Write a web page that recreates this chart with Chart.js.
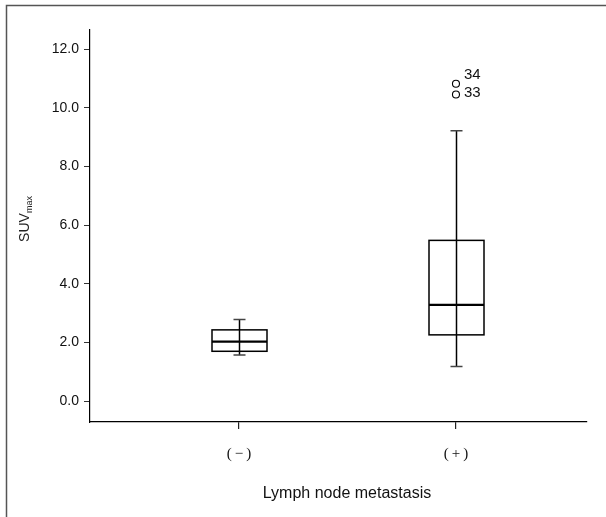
<!DOCTYPE html>
<html>
<head>
<meta charset="utf-8">
<script src="https://cdn.jsdelivr.net/npm/chart.js@4/dist/chart.umd.min.js"></script>
<style>
html,body{margin:0;padding:0;background:#fff;}
#wrap{width:606px;height:517px;position:relative;}
</style>
</head>
<body>
<div id="wrap"><canvas id="c" width="606" height="517"></canvas></div>
<script>
// ---- data ----
const categories = ['(\u2009\u2212\u2009)', '(\u2009+\u2009)'];
const categoryPositions = [1, 2];
const whiskerLow = [1.57, 1.18];
const quartile1 = [1.70, 2.26];
const medians = [2.03, 3.28];
const quartile3 = [2.43, 5.48];
const whiskerHigh = [2.78, 9.22];
const outlierCategory = [2, 2];
const outlierValues = [10.45, 10.82];
const outlierLabels = ['33', '34'];
const yTickValues = [0, 2, 4, 6, 8, 10, 12];
const yTitleMain = 'SUV';
const yTitleSub = 'max';
const xTitle = 'Lymph node metastasis';

const SANS = '"Liberation Sans", Arial, sans-serif';
const SERIF = '"Liberation Serif", "Times New Roman", serif';

const boxPlugin = {
  id: 'boxPlugin',
  beforeDraw(chart) {
    const ctx = chart.ctx;
    ctx.save();
    ctx.fillStyle = '#fff';
    ctx.fillRect(0, 0, chart.width, chart.height);
    // outer frame (left and top)
    ctx.strokeStyle = '#555';
    ctx.lineWidth = 1.5;
    ctx.beginPath();
    ctx.moveTo(6.5, chart.height);
    ctx.lineTo(6.5, 5.5);
    ctx.lineTo(chart.width, 5.5);
    ctx.stroke();
    ctx.restore();
  },
  afterDatasetsDraw(chart) {
    const ctx = chart.ctx;
    const xs = chart.scales.x, ys = chart.scales.y;
    ctx.save();
    const half = 27.5, cap = 6;
    for (let i = 0; i < categories.length; i++) {
      const cx = Math.round(xs.getPixelForValue(categoryPositions[i])) + 0.5;
      const yLo = ys.getPixelForValue(whiskerLow[i]);
      const yHi = ys.getPixelForValue(whiskerHigh[i]);
      const y1 = ys.getPixelForValue(quartile1[i]);
      const y3 = ys.getPixelForValue(quartile3[i]);
      const ym = ys.getPixelForValue(medians[i]);
      // whisker line (through box)
      ctx.strokeStyle = '#000';
      ctx.lineWidth = 1.5;
      ctx.beginPath();
      ctx.moveTo(cx, yLo); ctx.lineTo(cx, yHi);
      ctx.stroke();
      // caps
      ctx.strokeStyle = '#444';
      ctx.lineWidth = 1.5;
      ctx.beginPath();
      ctx.moveTo(cx - cap, yLo); ctx.lineTo(cx + cap, yLo);
      ctx.moveTo(cx - cap, yHi); ctx.lineTo(cx + cap, yHi);
      ctx.stroke();
      // box
      ctx.strokeStyle = '#000';
      ctx.lineWidth = 1.5;
      ctx.strokeRect(cx - half, y3, 2 * half, y1 - y3);
      // median
      ctx.lineWidth = 2.2;
      ctx.beginPath();
      ctx.moveTo(cx - half, ym); ctx.lineTo(cx + half, ym);
      ctx.stroke();
    }
    // outlier labels
    ctx.fillStyle = '#111';
    ctx.font = '15px ' + SANS;
    ctx.textAlign = 'left';
    ctx.textBaseline = 'middle';
    for (let j = 0; j < outlierValues.length; j++) {
      const px = xs.getPixelForValue(outlierCategory[j]);
      const py = ys.getPixelForValue(outlierValues[j]);
      const dy = j === 1 ? -9 : -2;
      ctx.fillText(outlierLabels[j], px + 8, py + dy);
    }
    // y title (rotated, with subscript)
    const ca = chart.chartArea;
    ctx.save();
    ctx.fillStyle = '#222';
    ctx.translate(29, (ca.top + ca.bottom) / 2 - 7);
    ctx.rotate(-Math.PI / 2);
    ctx.textBaseline = 'alphabetic';
    ctx.font = '14px ' + SANS;
    const wMain = ctx.measureText(yTitleMain).width;
    ctx.font = '9px ' + SANS;
    const wSub = ctx.measureText(yTitleSub).width;
    const start = -(wMain + wSub) / 2;
    ctx.font = '14px ' + SANS;
    ctx.fillText(yTitleMain, start, 0);
    ctx.font = '9px ' + SANS;
    ctx.fillText(yTitleSub, start + wMain, 3);
    ctx.restore();
    // x title
    ctx.fillStyle = '#111';
    ctx.font = '16px ' + SANS;
    ctx.textAlign = 'center';
    ctx.textBaseline = 'middle';
    ctx.fillText(xTitle, 347, 494);
    ctx.restore();
  }
};

new Chart(document.getElementById('c'), {
  type: 'scatter',
  data: {
    datasets: [{
      label: 'outliers',
      data: outlierValues.map((v, j) => ({ x: outlierCategory[j], y: v })),
      pointStyle: 'circle',
      radius: 3.5,
      borderWidth: 1.1,
      borderColor: '#000',
      backgroundColor: '#fff'
    }]
  },
  options: {
    responsive: false,
    animation: false,
    events: [],
    layout: { padding: { top: 30, right: 19, left: 0, bottom: 0 } },
    plugins: { legend: { display: false }, tooltip: { enabled: false } },
    scales: {
      x: {
        type: 'linear',
        min: 0.313,
        max: 2.604,
        afterBuildTicks(scale) { scale.ticks = categoryPositions.map(v => ({ value: v })); },
        afterFit(scale) { scale.height = 95; },
        border: { display: true, color: '#000', width: 1.2 },
        grid: { drawOnChartArea: false, drawTicks: true, tickLength: 7, color: '#222', lineWidth: 1.2 },
        ticks: {
          padding: 16,
          color: '#111',
          font: { family: SERIF, size: 15 },
          callback: (v) => { const k = categoryPositions.indexOf(v); return k >= 0 ? categories[k] : ''; },
          maxRotation: 0
        }
      },
      y: {
        type: 'linear',
        min: -0.71,
        max: 12.65,
        afterBuildTicks(scale) { scale.ticks = yTickValues.map(v => ({ value: v })); },
        afterFit(scale) { scale.width = 90; },
        border: { display: true, color: '#000', width: 1.2 },
        grid: { drawOnChartArea: false, drawTicks: true, tickLength: 6, color: '#333', lineWidth: 1 },
        ticks: {
          padding: 5,
          color: '#111',
          font: { family: SANS, size: 14 },
          callback: (v) => Number(v).toFixed(1)
        }
      }
    }
  },
  plugins: [boxPlugin]
});
</script>
</body>
</html>
